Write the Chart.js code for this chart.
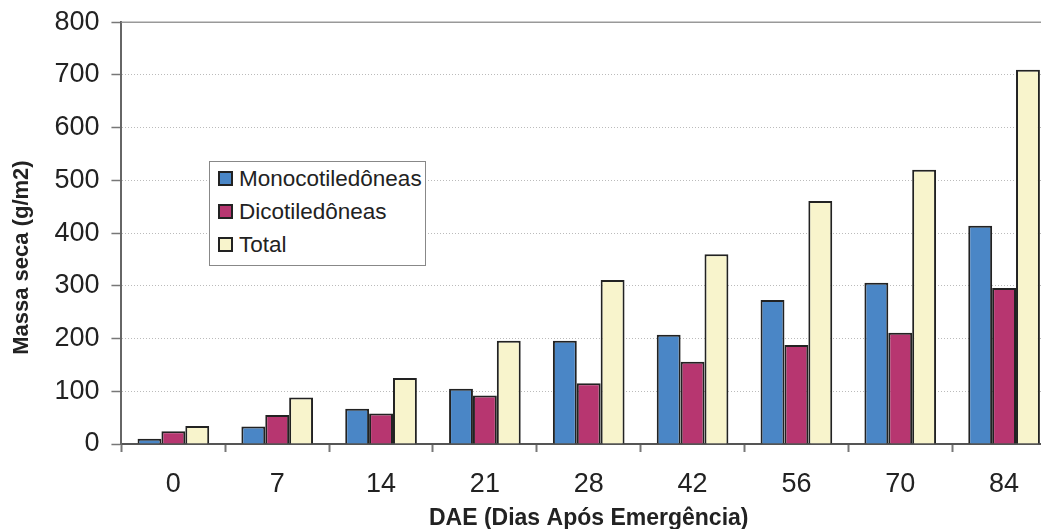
<!DOCTYPE html>
<html>
<head>
<meta charset="utf-8">
<script src="https://cdn.jsdelivr.net/npm/chart.js@4.4.1/dist/chart.umd.min.js"></script>
<style>
  html, body { margin: 0; padding: 0; background: #fff; overflow: hidden; }
  #wrap { position: relative; width: 1041px; height: 529px; overflow: hidden; }
  #box { position: absolute; left: 0; top: -6px; width: 1060px; height: 538px; }
  #legend {
    position: absolute; left: 209px; top: 161px; width: 217px; height: 105px;
    border: 1px solid #888; background: #fff; box-sizing: border-box;
    font-family: "Liberation Sans", Arial, sans-serif; font-size: 22.5px; color: #222;
    padding-top: 0px;
  }
  #legend .item { display: flex; align-items: center; height: 33px; padding-left: 8px; }
  #legend .sw { width: 11px; height: 11px; border: 2px solid #222; margin-right: 6px; }
</style>
</head>
<body>
<div id="wrap">
  <div id="box"><canvas id="chart"></canvas></div>
  <div id="legend"></div>
</div>
<script>
  // Dias após emergência
  const days = ['0', '7', '14', '21', '28', '42', '56', '70', '84'];

  // Massa seca (g/m2)
  const monocot = [10, 33, 67, 105, 196, 207, 273, 306, 414];
  const dicot = [24, 55, 58, 92, 115, 156, 188, 211, 296];
  const total = [34, 88, 125, 196, 311, 360, 461, 520, 710];

  const yTicks = [0, 100, 200, 300, 400, 500, 600, 700, 800];

  const seriesNames = ['Monocotiledôneas', 'Dicotiledôneas', 'Total'];
  const seriesColors = ['#4a86c6', '#b73670', '#f8f4cc'];

  const font = '"Liberation Sans", Arial, sans-serif';

  const topBorder = {
    id: 'topBorder',
    afterDraw(chart) {
      const { ctx, chartArea } = chart;
      ctx.save();
      ctx.strokeStyle = '#999';
      ctx.lineWidth = 1.5;
      ctx.beginPath();
      ctx.moveTo(chartArea.left, chartArea.top);
      ctx.lineTo(chartArea.right, chartArea.top);
      ctx.stroke();
      ctx.restore();
    }
  };

  const ctx = document.getElementById('chart').getContext('2d');
  const chart = new Chart(ctx, {
    type: 'bar',
    data: {
      labels: days,
      datasets: [monocot, dicot, total].map((values, i) => ({
        label: seriesNames[i],
        data: values,
        backgroundColor: seriesColors[i],
        borderColor: '#222',
        borderWidth: 2,
        barPercentage: 1.0,
        categoryPercentage: 0.69
      }))
    },
    options: {
      responsive: true,
      maintainAspectRatio: false,
      animation: false,
      layout: { padding: { top: 5, left: 2, right: 4, bottom: 0 } },
      plugins: {
        legend: { display: false },
        tooltip: { enabled: false }
      },
      scales: {
        x: {
          grid: {
            drawOnChartArea: false,
            tickLength: 8,
            tickColor: '#777',
            tickWidth: 2
          },
          border: { color: '#555', width: 2 },
          ticks: {
            font: { family: font, size: 27 },
            color: '#222',
            padding: 16
          },
          title: {
            display: true,
            text: 'DAE (Dias Após Emergência)',
            font: { family: font, size: 23, weight: 'bold' },
            color: '#222',
            padding: { top: -12, bottom: 0 }
          }
        },
        y: {
          min: 0,
          max: 800,
          afterBuildTicks(scale) {
            scale.ticks = yTicks.map(v => ({ value: v }));
          },
          grid: {
            color: '#bbb',
            lineWidth: 1,
            tickLength: 10,
            tickColor: '#777',
            tickWidth: 1.5
          },
          border: { color: '#666', width: 2, dash: [1, 2] },
          ticks: {
            font: { family: font, size: 27 },
            color: '#222',
            padding: 12
          },
          title: {
            display: true,
            // espaços no fim deslocam o título para baixo, como no original
            text: 'Massa seca (g/m2)' + '\u00a0'.repeat(8),
            font: { family: font, size: 22, weight: 'bold' },
            color: '#222',
            padding: 7
          }
        }
      }
    },
    plugins: [topBorder]
  });

  // Legenda dentro da área do gráfico
  const legend = document.getElementById('legend');
  seriesNames.forEach((name, i) => {
    const item = document.createElement('div');
    item.className = 'item';
    const sw = document.createElement('span');
    sw.className = 'sw';
    sw.style.background = seriesColors[i];
    const label = document.createElement('span');
    label.textContent = name;
    item.appendChild(sw);
    item.appendChild(label);
    legend.appendChild(item);
  });
</script>
</body>
</html>
